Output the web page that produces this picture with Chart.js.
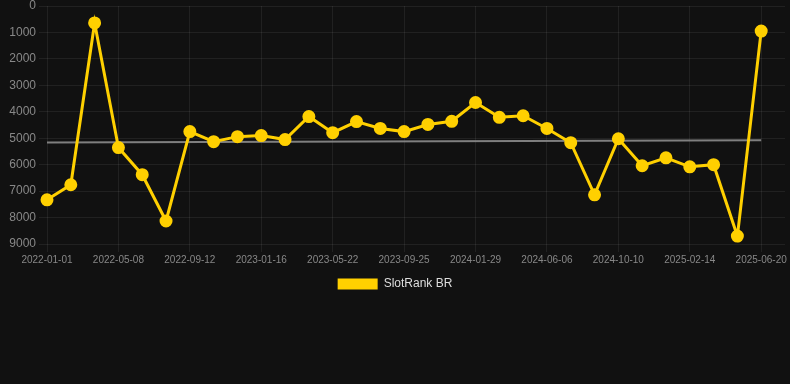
<!DOCTYPE html>
<html>
<head>
<meta charset="utf-8">
<script src="https://cdn.jsdelivr.net/npm/chart.js@4.4.1/dist/chart.umd.min.js"></script>
<style>
  html, body { margin: 0; padding: 0; background: #111111; }
  #wrap { position: relative; width: 790px; height: 300px; }
</style>
</head>
<body>
<div id="wrap"><canvas id="c"></canvas></div>
<script>
const labels = [
  "2022-01-01","2022-02-12","2022-03-26","2022-05-08","2022-06-19","2022-07-31",
  "2022-09-12","2022-10-24","2022-12-05","2023-01-16","2023-02-27","2023-04-10",
  "2023-05-22","2023-07-03","2023-08-14","2023-09-25","2023-11-06","2023-12-18",
  "2024-01-29","2024-03-11","2024-04-24","2024-06-06","2024-07-18","2024-08-29",
  "2024-10-10","2024-11-21","2025-01-03","2025-02-14","2025-03-28","2025-05-09",
  "2025-06-20","2025-08-01"
];
const rankValues = [
  7330, 6760, 640, 5355, 6380, 8130,
  4750, 5130, 4940, 4900, 5050, 4180,
  4790, 4370, 4630, 4750, 4480, 4360,
  3650, 4210, 4150, 4630, 5170, 7140,
  5020, 6040, 5740, 6080, 6000, 8700,
  950, null
];
const trendStart = 5160;
const trendEnd = 5080;
const trendValues = labels.map((_, i) => i === 0 ? trendStart : (i === 30 ? trendEnd : null));
const yTicks = [0, 1000, 2000, 3000, 4000, 5000, 6000, 7000, 8000, 9000];

new Chart(document.getElementById('c'), {
  type: 'line',
  data: {
    labels: labels,
    datasets: [
      {
        label: 'SlotRank BR',
        data: rankValues,
        borderColor: '#FFD000',
        backgroundColor: '#FFD000',
        borderWidth: 3,
        pointRadius: 5,
        pointHoverRadius: 6,
        pointBackgroundColor: '#FFD000',
        pointBorderColor: '#FFD000',
        tension: 0,
        spanGaps: false
      },
      {
        label: 'trend',
        data: trendValues,
        borderColor: 'rgba(140,140,140,0.9)',
        backgroundColor: 'rgba(140,140,140,0.9)',
        borderWidth: 2,
        pointRadius: 0,
        spanGaps: true,
        tension: 0
      }
    ]
  },
  options: {
    responsive: true,
    maintainAspectRatio: false,
    animation: false,
    layout: { padding: 0, autoPadding: false },
    plugins: {
      legend: {
        position: 'bottom',
        labels: {
          color: '#dddddd',
          font: { size: 12, family: 'Arial, "Liberation Sans", sans-serif' },
          boxWidth: 40,
          boxHeight: 11,
          filter: (item) => item.text === 'SlotRank BR',
          generateLabels: (chart) => {
            const items = Chart.defaults.plugins.legend.labels.generateLabels(chart);
            items.forEach(it => { it.lineWidth = 0; it.strokeStyle = 'rgba(0,0,0,0)'; });
            return items;
          }
        }
      },
      tooltip: { enabled: false }
    },
    scales: {
      x: {
        type: 'category',
        offset: false,
        afterFit: (axis) => { axis.paddingRight = 5; },
        grid: { color: 'rgba(255,255,255,0.07)', tickLength: 8 },
        border: { display: false },
        ticks: {
          color: '#888888',
          padding: 2,
          font: { size: 10, family: 'Arial, "Liberation Sans", sans-serif' },
          maxRotation: 0,
          autoSkip: true
        }
      },
      y: {
        reverse: true,
        min: 0,
        max: 9000,
        afterBuildTicks: (axis) => { axis.ticks = yTicks.map(v => ({ value: v })); },
        afterFit: (axis) => { axis.width = 47; axis.paddingTop = 6; },
        grid: { color: 'rgba(255,255,255,0.07)', tickLength: 8 },
        border: { display: false },
        ticks: {
          color: '#888888',
          font: { size: 12, family: 'Arial, "Liberation Sans", sans-serif' },
          callback: (v) => String(v)
        }
      }
    }
  }
});
</script>
</body>
</html>
